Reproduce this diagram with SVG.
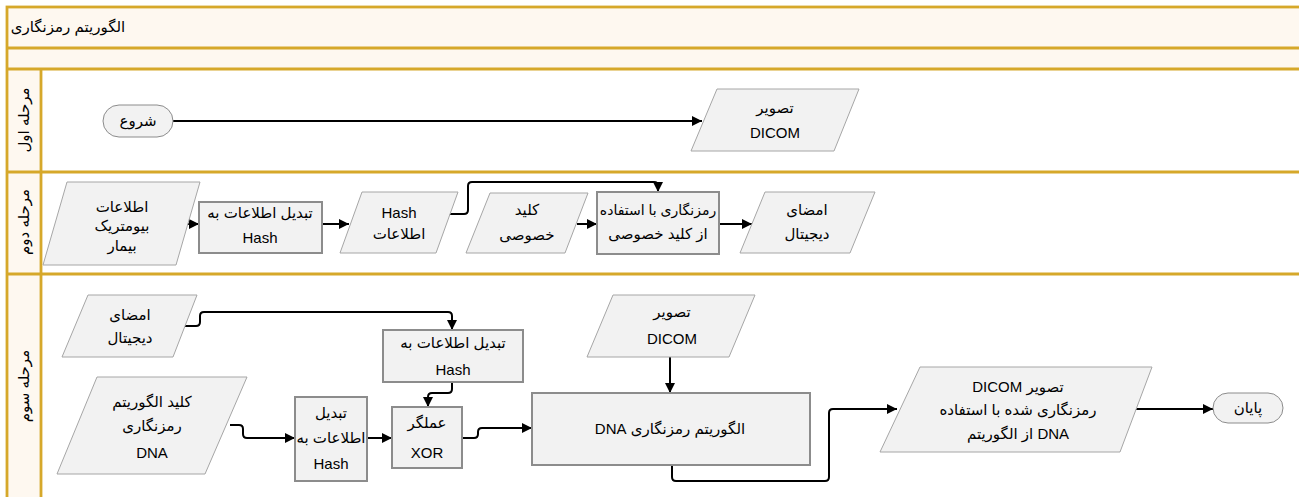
<svg xmlns="http://www.w3.org/2000/svg" width="1299" height="497" viewBox="0 0 1299 497">
<defs>
<marker id="ah" viewBox="0 0 10 10" refX="10" refY="5" markerWidth="11" markerHeight="10" markerUnits="userSpaceOnUse" orient="auto">
<path d="M0,0 L10,5 L0,10 z" fill="#000"/>
</marker>
<style>
.frame{fill:none;stroke:#D6A82A;stroke-width:2.8}
.band{fill:#FEF8F0;stroke:none}
.para{fill:#F2F2F2;stroke:#A6A6A6;stroke-width:1}
.proc{fill:#F2F2F2;stroke:#8C8C8C;stroke-width:2}
.term{fill:#F2F2F2;stroke:#8C8C8C;stroke-width:1}
.t{font-family:"Liberation Sans","DejaVu Sans",sans-serif;font-size:15px;fill:#000;text-anchor:middle}
.rtl{direction:rtl}
.sm{font-size:14px}
.lbl{font-family:"Liberation Sans","DejaVu Sans",sans-serif;font-size:15px;fill:#000;text-anchor:middle;direction:rtl}
.c{fill:none;stroke:#000;stroke-width:2;stroke-linejoin:round}
</style>
</defs>
<rect x="0" y="0" width="1299" height="497" fill="#fff"/>
<g id="pool">
<rect class="band" x="7" y="7" width="1300" height="62"/>
<rect class="band" x="7" y="69" width="34" height="430"/>
<rect class="frame" x="7" y="7" width="1310" height="500"/>
<line class="frame" x1="7" y1="48" x2="1299" y2="48"/>
<line class="frame" x1="7" y1="69" x2="1299" y2="69"/>
<line class="frame" x1="7" y1="172" x2="1299" y2="172"/>
<line class="frame" x1="7" y1="274" x2="1299" y2="274"/>
<line class="frame" x1="41" y1="69" x2="41" y2="497"/>
<text class="lbl" x="68" y="32">الگوریتم رمزنگاری</text>
<text class="lbl" transform="translate(29,120) rotate(-90)">مرحله اول</text>
<text class="lbl" transform="translate(29,222) rotate(-90)">مرحله دوم</text>
<text class="lbl" transform="translate(29,386) rotate(-90)">مرحله سوم</text>
</g>
<g id="connectors">
<path class="c" d="M173,121 H702" marker-end="url(#ah)"/>
<path class="c" d="M183,224 H199" marker-end="url(#ah)"/>
<path class="c" d="M322,224 H349" marker-end="url(#ah)"/>
<path class="c" d="M449,214 H464 Q468,214 468,210 V186 Q468,182 472,182 H654 Q658,182 658,186 V192" marker-end="url(#ah)"/>
<path class="c" d="M577,224 H597" marker-end="url(#ah)"/>
<path class="c" d="M719,224 H752" marker-end="url(#ah)"/>
<path class="c" d="M185,326 H196 Q200,326 200,322 V316 Q200,312 204,312 H448 Q452,312 452,316 V330" marker-end="url(#ah)"/>
<path class="c" d="M452,382 V389 Q452,393 448,393 H432 Q428,393 428,397 V407" marker-end="url(#ah)"/>
<path class="c" d="M230,425 H239 Q243,425 243,429 V434 Q243,438 247,438 H295" marker-end="url(#ah)"/>
<path class="c" d="M367,438 H392" marker-end="url(#ah)"/>
<path class="c" d="M462,438 H474 Q478,438 478,434 V432 Q478,428 482,428 H532" marker-end="url(#ah)"/>
<path class="c" d="M670,357 V393" marker-end="url(#ah)"/>
<path class="c" d="M672,465 V477 Q672,481 676,481 H825 Q829,481 829,477 V413 Q829,409 833,409 H897" marker-end="url(#ah)"/>
<path class="c" d="M1133,409 H1213" marker-end="url(#ah)"/>
</g>
<g id="start">
<rect class="term" x="103" y="105" width="70" height="32" rx="16"/>
<text class="t rtl" x="138" y="126">شروع</text>
</g>
<g id="dicom1">
<polygon class="para" points="717,89 859,89 834,151 691,151"/>
<text class="t rtl" x="775" y="113">تصویر</text>
<text class="t" x="775" y="138">DICOM</text>
</g>
<g id="bio">
<polygon class="para" points="67,182 200,182 176,265 43,265"/>
<text class="t rtl" x="122" y="212">اطلاعات</text>
<text class="t rtl" x="122" y="231">بیومتریک</text>
<text class="t rtl" x="122" y="251">بیمار</text>
</g>
<g id="toHash1">
<rect class="proc" x="199" y="202" width="123" height="51"/>
<text class="t rtl" x="260" y="218">تبدیل اطلاعات به</text>
<text class="t" x="260" y="243">Hash</text>
</g>
<g id="hashInfo">
<polygon class="para" points="362,192 458,192 436,253 340,253"/>
<text class="t" x="399" y="218">Hash</text>
<text class="t rtl" x="399" y="239">اطلاعات</text>
</g>
<g id="privKey">
<polygon class="para" points="490,193 588,193 565,253 466,253"/>
<text class="t rtl" x="527" y="215">کلید</text>
<text class="t rtl" x="527" y="240">خصوصی</text>
</g>
<g id="encrypt">
<rect class="proc" x="597" y="192" width="122" height="62"/>
<text class="t rtl sm" x="658" y="215">رمزنگاری با استفاده</text>
<text class="t rtl" x="658" y="239">از کلید خصوصی</text>
</g>
<g id="sig1">
<polygon class="para" points="765,192 875,192 850,253 740,253"/>
<text class="t rtl" x="807" y="215">امضای</text>
<text class="t rtl" x="807" y="239">دیجیتال</text>
</g>
<g id="sig2">
<polygon class="para" points="88,295 197,295 173,357 62,357"/>
<text class="t rtl" x="130" y="320">امضای</text>
<text class="t rtl" x="130" y="343">دیجیتال</text>
</g>
<g id="toHash2">
<rect class="proc" x="383" y="330" width="140" height="52"/>
<text class="t rtl" x="453" y="348">تبدیل اطلاعات به</text>
<text class="t" x="453" y="375">Hash</text>
</g>
<g id="dnaKey">
<polygon class="para" points="97,377 247,377 205,474 57,474"/>
<text class="t rtl" x="152" y="407">کلید الگوریتم</text>
<text class="t rtl" x="152" y="431">رمزنگاری</text>
<text class="t" x="152" y="458">DNA</text>
</g>
<g id="toHash3">
<rect class="proc" x="295" y="397" width="72" height="84"/>
<text class="t rtl" x="331" y="418">تبدیل</text>
<text class="t rtl" x="331" y="443">اطلاعات به</text>
<text class="t" x="331" y="469">Hash</text>
</g>
<g id="xor">
<rect class="proc" x="392" y="407" width="70" height="61"/>
<text class="t rtl" x="427" y="428">عملگر</text>
<text class="t" x="427" y="458">XOR</text>
</g>
<g id="dicom2">
<polygon class="para" points="613,295 755,295 729,357 587,357"/>
<text class="t rtl" x="672" y="317">تصویر</text>
<text class="t" x="672" y="344">DICOM</text>
</g>
<g id="dnaAlg">
<rect class="proc" x="532" y="393" width="278" height="72"/>
<text class="t rtl" x="670" y="434">الگوریتم رمزنگاری  DNA</text>
</g>
<g id="output">
<polygon class="para" points="920,367 1152,367 1120,452 880,452"/>
<text class="t rtl" x="1018" y="392">تصویر  DICOM</text>
<text class="t rtl" x="1018" y="415">رمزنگاری شده با استفاده</text>
<text class="t" x="1018" y="439">از الگوریتم DNA</text>
</g>
<g id="end">
<rect class="term" x="1213" y="393" width="70" height="30" rx="15"/>
<text class="t rtl" x="1248" y="413">پایان</text>
</g>
</svg>
